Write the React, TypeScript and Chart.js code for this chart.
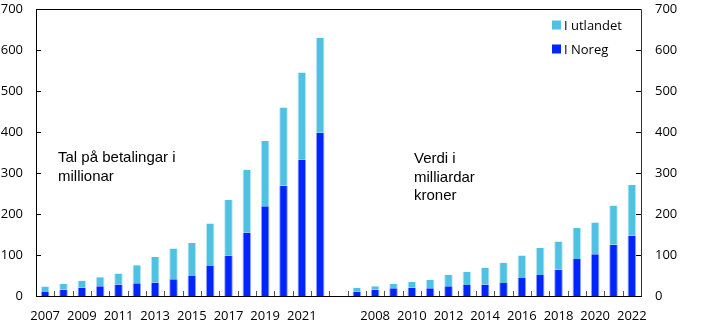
import React, { useEffect, useRef } from "react";
import { Chart, registerables } from "chart.js";

Chart.register(...registerables);

// Group 1: number of payments (millions)
const countYears = ["2007","2008","2009","2010","2011","2012","2013","2014","2015","2016","2017","2018","2019","2020","2021","2022"];
const countNoreg = [10, 15, 21, 24, 28, 31, 33, 41, 49, 73, 99, 155, 219, 269, 333, 398];
const countAbroad = [13, 14, 16, 22, 27, 44, 62, 75, 80, 104, 135, 153, 159, 191, 212, 232];

// Group 2: value (billion kroner)
const valueYears = ["2007","2008","2009","2010","2011","2012","2013","2014","2015","2016","2017","2018","2019","2020","2021","2022"];
const valueNoreg = [11, 15, 19, 20, 19, 24, 27, 28, 32, 44, 51, 64, 90, 102, 125, 147];
const valueAbroad = [9, 9, 10, 14, 20, 28, 32, 41, 49, 55, 66, 69, 76, 77, 96, 124];

// Shown x tick labels (every other year per group)
const countTickLabels = ["2007","","2009","","2011","","2013","","2015","","2017","","2019","","2021",""];
const valueTickLabels = ["","2008","","2010","","2012","","2014","","2016","","2018","","2020","","2022"];

const yTicks = [0, 100, 200, 300, 400, 500, 600, 700];

const seriesNames = ["I Noreg", "I utlandet"];
const leftNote = ["Tal på betalingar i", "millionar"];
const rightNote = ["Verdi i", "milliardar", "kroner"];

const DARK = "#0026FF";
const LIGHT = "#4FC2E4";

export default function App() {
  const ref = useRef<HTMLCanvasElement | null>(null);

  useEffect(() => {
    const canvas = ref.current;
    if (!canvas) return;

    const labels = [...countYears.map((y) => "c" + y), "gap", ...valueYears.map((y) => "v" + y)];
    const tickLabels = [...countTickLabels, "", ...valueTickLabels];
    const noreg = [...countNoreg, null, ...valueNoreg];
    const abroad = [...countAbroad, null, ...valueAbroad];

    const overlay = {
      id: "overlay",
      afterDraw(chart: any) {
        const { ctx, chartArea } = chart;
        const { left, right, top, bottom } = chartArea;
        const y = chart.scales.y;
        const x = chart.scales.x;
        ctx.save();
        // frame
        ctx.strokeStyle = "#000";
        ctx.lineWidth = 1;
        ctx.beginPath();
        ctx.moveTo(Math.round(left) + 0.5, Math.round(bottom) + 0.5);
        ctx.lineTo(Math.round(left) + 0.5, Math.round(top) + 0.5);
        ctx.lineTo(Math.round(right) + 0.5, Math.round(top) + 0.5);
        ctx.stroke();
        ctx.strokeStyle = "#333";
        ctx.beginPath();
        ctx.moveTo(Math.round(right) + 0.5, Math.round(top) + 0.5);
        ctx.lineTo(Math.round(right) + 0.5, Math.round(bottom) + 0.5);
        ctx.stroke();
        ctx.strokeStyle = "#000";
        ctx.beginPath();
        ctx.moveTo(Math.round(left), Math.round(bottom) + 0.5);
        ctx.lineTo(Math.round(right) + 1, Math.round(bottom) + 0.5);
        ctx.stroke();
        // inner y ticks
        ctx.beginPath();
        yTicks.forEach((v) => {
          const py = Math.round(y.getPixelForValue(v)) + 0.5;
          ctx.moveTo(left, py);
          ctx.lineTo(left + 5, py);
          ctx.moveTo(right, py);
          ctx.lineTo(right - 5, py);
        });
        ctx.stroke();
        // inner x ticks at category boundaries
        ctx.strokeStyle = "#555";
        ctx.beginPath();
        for (let i = 1; i < labels.length; i++) {
          const px = Math.round((x.getPixelForValue(i - 1) + x.getPixelForValue(i)) / 2) + 0.5;
          ctx.moveTo(px, bottom);
          ctx.lineTo(px, bottom - 5);
        }
        ctx.stroke();
        // notes
        ctx.fillStyle = "#000";
        ctx.font = "15px 'Liberation Sans', Arial, sans-serif";
        ctx.textAlign = "left";
        ctx.textBaseline = "alphabetic";
        leftNote.forEach((t, i) => ctx.fillText(t, 58, 162 + i * 18.5));
        rightNote.forEach((t, i) => ctx.fillText(t, 414, 163 + i * 18.5));
        // legend
        ctx.font = "13px 'Open Sans', sans-serif";
        ctx.textBaseline = "middle";
        const items = [
          { name: seriesNames[1], color: LIGHT, cy: 25 },
          { name: seriesNames[0], color: DARK, cy: 49 },
        ];
        items.forEach((it) => {
          ctx.fillStyle = it.color;
          ctx.fillRect(552, it.cy - 4.5, 9, 9);
          ctx.fillStyle = "#000";
          ctx.fillText(it.name, 564, it.cy + 1);
        });
        ctx.restore();
      },
    };

    const noPad = (s: any) => {
      s.paddingTop = 0;
      s.paddingBottom = 0;
      s.paddingLeft = 0;
      s.paddingRight = 0;
    };

    const chart = new Chart(canvas, {
      type: "bar",
      data: {
        labels,
        datasets: [
          {
            label: seriesNames[0],
            data: noreg,
            backgroundColor: DARK,
            borderColor: "rgba(120,140,255,0.8)",
            borderWidth: { left: 1, right: 1, top: 0, bottom: 0 },
            stack: "s",
            yAxisID: "y",
          },
          {
            label: seriesNames[1],
            data: abroad,
            backgroundColor: LIGHT,
            borderColor: "rgba(170,225,242,0.8)",
            borderWidth: { left: 1, right: 1, top: 0, bottom: 0 },
            stack: "s",
            yAxisID: "y",
          },
        ],
      },
      options: {
        responsive: false,
        animation: false,
        maintainAspectRatio: false,
        layout: { padding: { top: 9, left: 0, right: 0, bottom: 0 } },
        datasets: { bar: { barPercentage: 0.47, categoryPercentage: 1 } },
        plugins: { legend: { display: false }, tooltip: { enabled: false } },
        scales: {
          x: {
            stacked: true,
            grid: { display: false, drawTicks: false },
            border: { display: false },
            ticks: {
              autoSkip: false,
              maxRotation: 0,
              padding: 12,
              color: "#000",
              font: { family: "'Open Sans', sans-serif", size: 13 },
              callback: (_v: any, i: number) => tickLabels[i],
            },
            afterFit: (s: any) => {
              s.height = 38;
              noPad(s);
            },
          },
          y: {
            stacked: true,
            position: "left",
            min: 0,
            max: 700,
            grid: { display: false, drawTicks: false },
            border: { display: false },
            ticks: {
              stepSize: 100,
              padding: 13,
              color: "#000",
              font: { family: "'Open Sans', sans-serif", size: 13 },
            },
            afterFit: (s: any) => {
              s.width = 36;
              noPad(s);
            },
          },
          y2: {
            position: "right",
            min: 0,
            max: 700,
            grid: { display: false, drawTicks: false },
            border: { display: false },
            ticks: {
              stepSize: 100,
              padding: 14,
              color: "#000",
              font: { family: "'Open Sans', sans-serif", size: 13 },
            },
            afterFit: (s: any) => {
              s.width = 81;
              noPad(s);
            },
          },
        },
      },
      plugins: [overlay],
    } as any);

    return () => chart.destroy();
  }, []);

  return (
    <div style={{ position: "absolute", left: 0, top: 0, width: 722, height: 334, background: "#fff" }}>
      <canvas ref={ref} width={722} height={334} style={{ display: "block" }} />
    </div>
  );
}
